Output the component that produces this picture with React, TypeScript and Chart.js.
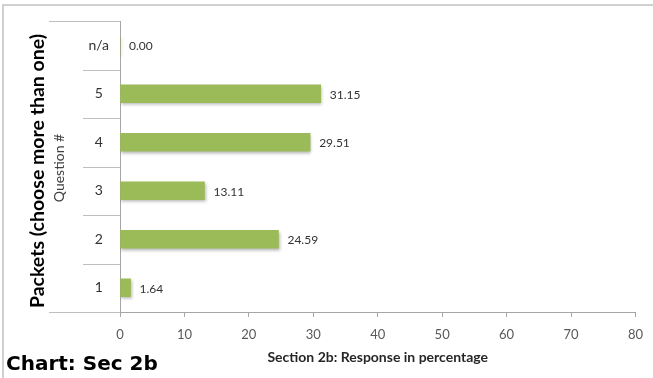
import React, { useEffect, useRef } from "react";
import { Chart, registerables } from "chart.js";

Chart.register(...registerables);

// Question categories, listed top to bottom
const categories: string[] = ["n/a", "5", "4", "3", "2", "1"];
// Percentage of responses per question
const responses: number[] = [0.0, 31.15, 29.51, 13.11, 24.59, 1.64];
// Horizontal axis range and step
const xMin = 0;
const xMax = 80;
const xStep = 10;

const yTitle = "Packets (choose more than one)";
const ySubTitle = "Question #";
const xTitle = "Section 2b: Response in percentage";
const caption = "Chart: Sec 2b";

const BAR_GREEN = "#9bbb59";
const AXIS_GRAY = "#a6a6a6";

const decorPlugin = {
  id: "decor",
  beforeDatasetsDraw(chart: any) {
    const ctx = chart.ctx;
    ctx.save();
    ctx.shadowColor = "rgba(0,0,0,0.28)";
    ctx.shadowBlur = 3;
    ctx.shadowOffsetX = 1;
    ctx.shadowOffsetY = 2;
  },
  afterDatasetsDraw(chart: any) {
    const ctx = chart.ctx;
    ctx.restore();
    // value labels to the right of each bar
    const meta = chart.getDatasetMeta(0);
    const data = chart.data.datasets[0].data as number[];
    ctx.save();
    ctx.font = "12px Lato";
    ctx.fillStyle = "#333333";
    ctx.textAlign = "left";
    ctx.textBaseline = "middle";
    meta.data.forEach((el: any, i: number) => {
      ctx.fillText(data[i].toFixed(2), el.x + 9, el.y + 1);
    });
    ctx.restore();
  },
  afterDraw(chart: any) {
    const ctx = chart.ctx;
    const y = chart.scales.y;
    const x = chart.scales.x;
    const area = chart.chartArea;
    const n = categories.length;
    ctx.save();

    // category separators extending left of the axis
    ctx.strokeStyle = "#bfbfbf";
    ctx.lineWidth = 1;
    for (let i = 0; i <= n; i++) {
      const py = Math.round(y.getPixelForValue(i - 0.5)) + 0.5;
      const startX = i === 0 || i === n ? 49 : 83;
      ctx.beginPath();
      ctx.moveTo(startX, py);
      ctx.lineTo(area.left, py);
      ctx.stroke();
    }

    // rotated axis titles
    ctx.fillStyle = "#000000";
    ctx.font = "bold 19.5px Lato";
    ctx.textAlign = "center";
    ctx.textBaseline = "middle";
    ctx.save();
    ctx.translate(38, 171);
    ctx.rotate(-Math.PI / 2);
    ctx.fillText(yTitle, 0, 0);
    ctx.restore();

    ctx.fillStyle = "#404040";
    ctx.font = "14px Lato";
    ctx.save();
    ctx.translate(59, 168);
    ctx.rotate(-Math.PI / 2);
    ctx.fillText(ySubTitle, 0, 0);
    ctx.restore();

    // horizontal axis title
    ctx.fillStyle = "#262626";
    ctx.font = "bold 14px Lato";
    ctx.fillText(xTitle, (x.left + x.right) / 2, 357);

    // caption
    ctx.fillStyle = "#000000";
    ctx.font = "bold 20px 'DejaVu Sans'";
    ctx.textAlign = "left";
    ctx.textBaseline = "alphabetic";
    ctx.fillText(caption, 6, 370);

    // frame
    ctx.strokeStyle = "#d0d0d0";
    ctx.lineWidth = 2;
    ctx.beginPath();
    ctx.moveTo(3, 378);
    ctx.lineTo(3, 5);
    ctx.lineTo(653, 5);
    ctx.stroke();
    ctx.restore();
  },
};

export default function App() {
  const canvasRef = useRef<HTMLCanvasElement | null>(null);

  useEffect(() => {
    if (!canvasRef.current) return;
    Chart.defaults.font.family = "Lato";
    const chart = new Chart(canvasRef.current, {
      type: "bar",
      data: {
        labels: categories,
        datasets: [
          {
            data: responses,
            backgroundColor: BAR_GREEN,
            borderWidth: 0,
            barThickness: 18,
          },
        ],
      },
      options: {
        indexAxis: "y",
        animation: false,
        responsive: true,
        maintainAspectRatio: false,
        layout: { padding: { top: 21, right: 17, left: 0, bottom: 0 } },
        plugins: {
          legend: { display: false },
          tooltip: { enabled: false },
          title: { display: false },
        },
        scales: {
          x: {
            min: xMin,
            max: xMax,
            ticks: {
              stepSize: xStep,
              color: "#595959",
              font: { size: 13, family: "Lato" },
              padding: 10,
              maxRotation: 0,
            },
            grid: {
              drawOnChartArea: false,
              drawTicks: true,
              tickLength: 5,
              color: AXIS_GRAY,
            },
            border: { display: true, color: AXIS_GRAY },
            afterFit: (scale: any) => {
              scale.height = 66;
            },
          },
          y: {
            ticks: {
              color: "#333333",
              font: { size: 14, family: "Lato" },
              crossAlign: "center",
              padding: 11,
            },
            grid: { display: false, drawTicks: false },
            border: { display: true, color: AXIS_GRAY },
            afterFit: (scale: any) => {
              scale.width = 120;
            },
          },
        },
      } as any,
      plugins: [decorPlugin],
    });
    return () => chart.destroy();
  }, []);

  return (
    <div
      style={{
        position: "fixed",
        left: 0,
        top: 0,
        width: 653,
        height: 378,
        background: "#ffffff",
      }}
    >
      <canvas ref={canvasRef} />
    </div>
  );
}
